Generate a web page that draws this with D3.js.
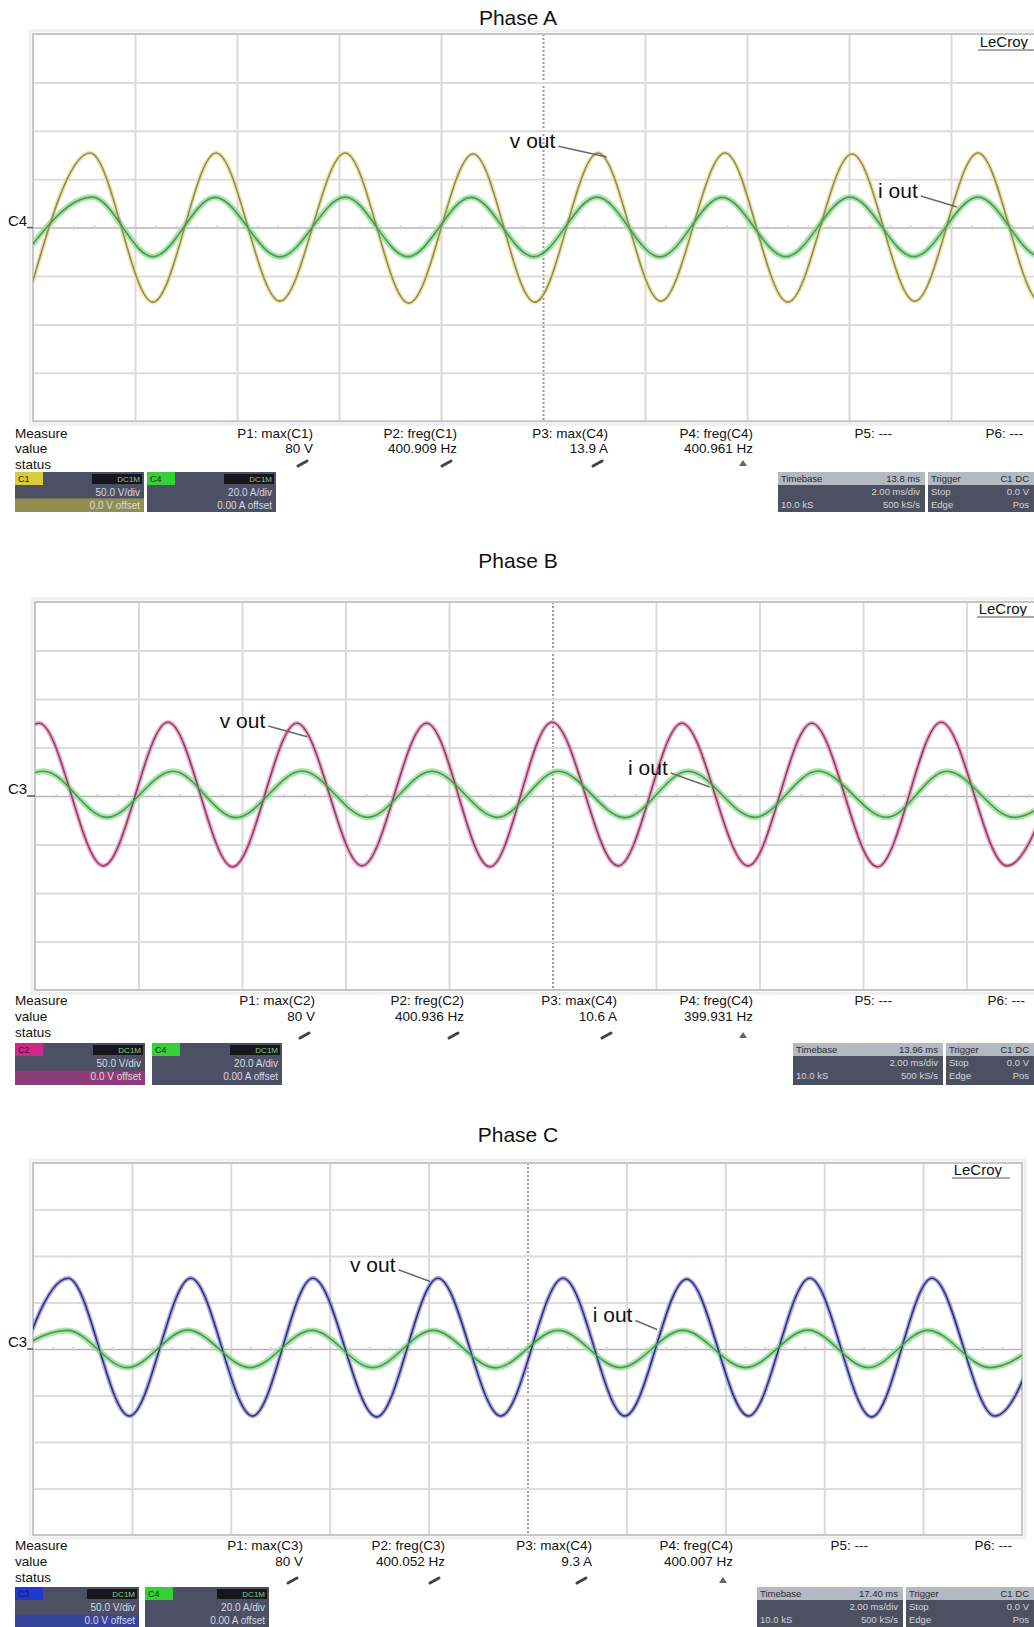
<!DOCTYPE html>
<html>
<head>
<meta charset="utf-8">
<script src="https://cdn.jsdelivr.net/npm/d3@7/dist/d3.min.js"></script>
<style>
  body { margin: 0; background: #fff; }
  svg { display: block; font-family: "Liberation Sans", Arial, Helvetica, sans-serif; }
</style>
</head>
<body>
<div id="chart"></div>
<script>
// scope settings
const voltsPerDiv = 50;
const ampsPerDiv = 20;
const msPerDiv = 2;

// extrema of each trace: time (ms from left of screen) and value
const phaseAVoltT = [-0.12, 1.12, 2.35, 3.59, 4.84, 6.12, 7.37, 8.63, 9.84, 11.08, 12.31, 13.57, 14.80, 16.06, 17.29, 18.53, 19.76, 21.0];
const phaseAVolt  = [-77, 77, -77, 77, -76, 77, -78, 76, -77, 77, -76, 77, -77, 76, -76, 77, -77, 77];
const phaseACurT  = [-0.2, 1.16, 2.35, 3.57, 4.84, 6.12, 7.35, 8.59, 9.82, 11.06, 12.29, 13.51, 14.76, 16.02, 17.27, 18.53, 19.76, 21.0];
const phaseACur   = [-12.0, 12.6, -12.0, 12.5, -12.1, 12.6, -12.0, 12.5, -12.0, 12.6, -12.1, 12.5, -12.0, 12.6, -12.0, 12.6, -12.0, 12.5];

const phaseBVoltT = [-1.17, 0.08, 1.32, 2.57, 3.82, 5.06, 6.32, 7.57, 8.79, 9.99, 11.27, 12.50, 13.78, 15.01, 16.28, 17.51, 18.78, 20.02];
const phaseBVolt  = [-72, 75, -72, 76, -73, 75, -72, 75, -73, 76, -72, 75, -72, 75, -73, 76, -72, 75];
const phaseBCurT  = [-1.08, 0.17, 1.39, 2.67, 3.88, 5.16, 6.43, 7.67, 8.94, 10.11, 11.40, 12.62, 13.91, 15.13, 16.46, 17.62, 18.92, 20.12];
const phaseBCur   = [-8.8, 10.2, -8.8, 10.2, -8.9, 10.3, -8.8, 10.2, -8.8, 10.2, -8.9, 10.2, -8.8, 10.3, -8.8, 10.2, -8.8, 10.2];

const phaseCVoltT = [-0.6, 0.71, 1.95, 3.19, 4.44, 5.66, 6.95, 8.19, 9.46, 10.72, 11.97, 13.22, 14.47, 15.71, 16.96, 18.18, 19.45, 20.7];
const phaseCVolt  = [-72, 76, -72, 76, -72, 76, -73, 76, -72, 76, -72, 75, -72, 76, -73, 76, -72, 76];
const phaseCCurT  = [-0.8, 0.69, 1.91, 3.13, 4.39, 5.64, 6.87, 8.09, 9.35, 10.62, 11.88, 13.14, 14.41, 15.67, 16.89, 18.10, 19.35, 20.6];
const phaseCCur   = [-8.0, 8.0, -8.0, 8.1, -8.0, 8.0, -8.0, 8.0, -8.1, 8.0, -8.0, 8.0, -8.0, 8.1, -8.0, 8.0, -8.0, 8.0];

// measurement readouts
const measureRowLabels = ["Measure", "value", "status"];
const phaseAHeads  = ["P1: max(C1)", "P2: freg(C1)", "P3: max(C4)", "P4: freg(C4)", "P5: ---", "P6: ---"];
const phaseAValues = ["80 V", "400.909 Hz", "13.9 A", "400.961 Hz", "", ""];
const phaseBHeads  = ["P1: max(C2)", "P2: freg(C2)", "P3: max(C4)", "P4: freg(C4)", "P5: ---", "P6: ---"];
const phaseBValues = ["80 V", "400.936 Hz", "10.6 A", "399.931 Hz", "", ""];
const phaseCHeads  = ["P1: max(C3)", "P2: freg(C3)", "P3: max(C4)", "P4: freg(C4)", "P5: ---", "P6: ---"];
const phaseCValues = ["80 V", "400.052 Hz", "9.3 A", "400.007 Hz", "", ""];
const statusKinds  = ["ok", "ok", "ok", "warn", "", ""];

const width = 1034;
const height = 1627;

const svg = d3.select("#chart").append("svg")
  .attr("width", width)
  .attr("height", height);

const panels = [
  {
    id: "A", title: "Phase A", titleY: 25, left: 33, top: 34, divX: 102, divY: 48.4,
    chanLabel: "C4", volt: [phaseAVoltT, phaseAVolt], cur: [phaseACurT, phaseACur],
    vGlow: "#e8e08e", vCore: "#918c5e", chanColor: "#d8cc3a", chanText: "C1",
    heads: phaseAHeads, values: phaseAValues,
    rows: [438, 453, 469], cols: [313, 457, 608, 753, 892, 1023], statusY: 463,
    badges: [15, 147], badgeW: 129, badgeY: 472, badgeH: 40,
    tb: [778, 928], tbW: 147, tbTime: "13.8 ms",
    lecroy: [1028, 47],
    vLabel: { t: 9.35, val: 82, endT: 11.25, endVal: 73 },
    iLabel: { t: 16.57, val: 12.2, endT: 18.12, endVal: 8.5 }
  },
  {
    id: "B", title: "Phase B", titleY: 568, left: 35, top: 602, divX: 103.5, divY: 48.5,
    chanLabel: "C3", volt: [phaseBVoltT, phaseBVolt], cur: [phaseBCurT, phaseBCur],
    vGlow: "#ec94bc", vCore: "#8e4268", chanColor: "#d0288a", chanText: "C2",
    heads: phaseBHeads, values: phaseBValues,
    rows: [1005, 1021, 1037], cols: [315, 464, 617, 753, 892, 1025], statusY: 1035,
    badges: [15, 152], badgeW: 130, badgeY: 1043, badgeH: 42,
    tb: [793, 946], tbW: 150, tbTime: "13.96 ms",
    lecroy: [1027, 614],
    vLabel: { t: 3.57, val: 70, endT: 5.26, endVal: 61 },
    iLabel: { t: 11.46, val: 8.7, endT: 13.04, endVal: 3.7 }
  },
  {
    id: "C", title: "Phase C", titleY: 1142, left: 33, top: 1163, divX: 98.9, divY: 46.5,
    chanLabel: "C3", volt: [phaseCVoltT, phaseCVolt], cur: [phaseCCurT, phaseCCur],
    vGlow: "#9494e2", vCore: "#33337a", chanColor: "#2038d0", chanText: "C3",
    heads: phaseCHeads, values: phaseCValues,
    rows: [1550, 1566, 1582], cols: [303, 445, 592, 733, 868, 1012], statusY: 1580,
    badges: [15, 145], badgeW: 124, badgeY: 1587, badgeH: 42,
    tb: [757, 906], tbW: 146, tbTime: "17.40 ms",
    lecroy: [1002, 1175],
    vLabel: { t: 6.41, val: 83, endT: 8.03, endVal: 72.6 },
    iLabel: { t: 11.32, val: 11.4, endT: 12.62, endVal: 8.4 }
  }
];

panels.forEach(drawPanel);

function drawPanel(p) {
  const plotW = 10 * p.divX;
  const plotH = 8 * p.divY;
  const bottom = p.top + plotH;

  const x = d3.scaleLinear()
    .domain([0, 10 * msPerDiv])
    .range([p.left, p.left + plotW]);
  const yV = d3.scaleLinear()
    .domain([-4 * voltsPerDiv, 4 * voltsPerDiv])
    .range([bottom, p.top]);
  const yI = d3.scaleLinear()
    .domain([-4 * ampsPerDiv, 4 * ampsPerDiv])
    .range([bottom, p.top]);

  const g = svg.append("g");

  g.append("text")
    .attr("x", 518)
    .attr("y", p.titleY)
    .attr("text-anchor", "middle")
    .style("font-size", "21px")
    .attr("fill", "#111")
    .text(p.title);

  // outer frame shadow
  g.append("rect")
    .attr("x", p.left - 3).attr("y", p.top - 3)
    .attr("width", plotW + 6).attr("height", plotH + 6)
    .attr("fill", "none").attr("stroke", "#f0f0f0").attr("stroke-width", 3);

  // grid from axes
  const gx = g.append("g")
    .attr("transform", `translate(0,${p.top})`)
    .call(d3.axisBottom(x).tickValues(d3.range(msPerDiv, 10 * msPerDiv, msPerDiv)).tickSize(plotH).tickFormat(""));
  gx.select(".domain").remove();
  gx.selectAll("line").attr("stroke", "#dadada").attr("stroke-width", 2);
  gx.selectAll(".tick").filter(d => d === 5 * msPerDiv).select("line")
    .attr("stroke", "#9a9a9a").attr("stroke-width", 2).attr("stroke-dasharray", "2,2");

  const gy = g.append("g")
    .attr("transform", `translate(${p.left},0)`)
    .call(d3.axisRight(yV).tickValues(d3.range(-3 * voltsPerDiv, 4 * voltsPerDiv, voltsPerDiv)).tickSize(plotW).tickFormat(""));
  gy.select(".domain").remove();
  gy.selectAll("line").attr("stroke", "#dcdcdc").attr("stroke-width", 2);
  gy.selectAll(".tick").filter(d => d === 0).select("line")
    .attr("stroke", "#b6b6b6").attr("stroke-width", 1.5);

  // minor ticks along the center cross
  const mx = g.append("g")
    .attr("transform", `translate(0,${yV(0) - 2})`)
    .call(d3.axisBottom(x).tickValues(d3.range(0.4, 20, 0.4)).tickSize(4).tickFormat(""));
  mx.select(".domain").remove();
  mx.selectAll("line").attr("stroke", "#e6c8d4").attr("stroke-width", 1.5);

  g.append("rect")
    .attr("x", p.left).attr("y", p.top)
    .attr("width", plotW).attr("height", plotH)
    .attr("fill", "none").attr("stroke", "#c6c6c6").attr("stroke-width", 2);

  // traces
  svg.append("clipPath").attr("id", "clip" + p.id)
    .append("rect")
    .attr("x", p.left).attr("y", p.top)
    .attr("width", plotW).attr("height", plotH);

  const traces = g.append("g").attr("clip-path", `url(#clip${p.id})`);

  const vData = p.volt[0].map((t, i) => ({ t, v: p.volt[1][i] }));
  const iData = p.cur[0].map((t, i) => ({ t, v: p.cur[1][i] }));

  const vLine = d3.line().x(d => x(d.t)).y(d => yV(d.v)).curve(d3.curveMonotoneX);
  const iLine = d3.line().x(d => x(d.t)).y(d => yI(d.v)).curve(d3.curveMonotoneX);

  traces.append("path").datum(vData)
    .attr("fill", "none").attr("stroke", p.vGlow).attr("stroke-width", 4.5).attr("opacity", 0.8)
    .attr("d", vLine);
  traces.append("path").datum(iData)
    .attr("fill", "none").attr("stroke", "#8ee28e").attr("stroke-width", 6).attr("opacity", 0.8)
    .attr("d", iLine);
  traces.append("path").datum(vData)
    .attr("fill", "none").attr("stroke", p.vCore).attr("stroke-width", 1.6)
    .attr("d", vLine);
  traces.append("path").datum(iData)
    .attr("fill", "none").attr("stroke", "#55905f").attr("stroke-width", 1.6)
    .attr("d", iLine);

  // channel label at the zero level
  g.append("text")
    .attr("x", 8).attr("y", yV(0) - 2)
    .style("font-size", "15px").attr("fill", "#111")
    .text(p.chanLabel);
  g.append("line")
    .attr("x1", 27).attr("x2", p.left)
    .attr("y1", yV(0)).attr("y2", yV(0))
    .attr("stroke", "#555").attr("stroke-width", 1.5);

  // LeCroy tag
  g.append("text")
    .attr("x", p.lecroy[0]).attr("y", p.lecroy[1])
    .attr("text-anchor", "end")
    .style("font-size", "15px").attr("fill", "#111")
    .text("LeCroy");
  g.append("line")
    .attr("x1", p.lecroy[0] - 50).attr("x2", p.lecroy[0] + 8)
    .attr("y1", p.lecroy[1] + 3).attr("y2", p.lecroy[1] + 3)
    .attr("stroke", "#a8a8a8").attr("stroke-width", 2);

  // trace annotations
  [[p.vLabel, yV, "v out"], [p.iLabel, yI, "i out"]].forEach(([a, ys, label]) => {
    const txt = g.append("text")
      .attr("x", x(a.t)).attr("y", ys(a.val))
      .style("font-size", "21px").attr("fill", "#111")
      .text(label);
    const len = txt.node().getComputedTextLength();
    g.append("line")
      .attr("x1", x(a.t) + len + 3).attr("y1", ys(a.val) - 2)
      .attr("x2", x(a.endT)).attr("y2", ys(a.endVal))
      .attr("stroke", "#6a6a6a").attr("stroke-width", 1.6);
  });

  // measurement table
  measureRowLabels.forEach((lab, i) => {
    g.append("text")
      .attr("x", 15).attr("y", p.rows[i])
      .style("font-size", "13.5px").attr("fill", "#111")
      .text(lab);
  });
  p.heads.forEach((h, i) => {
    g.append("text")
      .attr("x", p.cols[i]).attr("y", p.rows[0])
      .attr("text-anchor", "end")
      .style("font-size", "13.5px").attr("fill", "#111")
      .text(h);
    if (p.values[i]) {
      g.append("text")
        .attr("x", p.cols[i]).attr("y", p.rows[1])
        .attr("text-anchor", "end")
        .style("font-size", "13.5px").attr("fill", "#111")
        .text(p.values[i]);
    }
    const sx = p.cols[i] - 10;
    if (statusKinds[i] === "ok") {
      g.append("path")
        .attr("d", `M${sx - 5},${p.statusY + 3} L${sx + 4},${p.statusY - 2}`)
        .attr("stroke", "#444").attr("stroke-width", 3).attr("stroke-linecap", "round");
    } else if (statusKinds[i] === "warn") {
      g.append("path")
        .attr("d", `M${sx - 4},${p.statusY + 3} L${sx},${p.statusY - 3} L${sx + 4},${p.statusY + 3} Z`)
        .attr("fill", "#666");
    }
  });

  // channel badges
  const badgeInfo = [
    { color: p.chanColor, name: p.chanText, l1: "50.0 V/div", l2: "0.0 V offset", tint: true },
    { color: "#34d034", name: "C4", l1: "20.0 A/div", l2: "0.00 A offset", tint: false }
  ];
  badgeInfo.forEach((b, i) => {
    const bx = p.badges[i];
    const bg = g.append("g").attr("transform", `translate(${bx},${p.badgeY})`);
    bg.append("rect").attr("width", p.badgeW).attr("height", p.badgeH).attr("fill", "#4d5064");
    if (b.tint) {
      bg.append("rect").attr("y", p.badgeH * 0.66).attr("width", p.badgeW).attr("height", p.badgeH * 0.34)
        .attr("fill", b.color).attr("opacity", 0.5);
    }
    bg.append("rect").attr("width", 28).attr("height", 13).attr("fill", b.color);
    bg.append("rect").attr("x", p.badgeW - 52).attr("y", 2).attr("width", 50).attr("height", 10).attr("fill", "#16161c");
    bg.append("text").attr("x", 3).attr("y", 10).style("font-size", "9px").attr("fill", "#222").text(b.name);
    bg.append("text").attr("x", p.badgeW - 4).attr("y", 10).attr("text-anchor", "end")
      .style("font-size", "8px").attr("fill", "#8c8").text("DC1M");
    bg.append("text").attr("x", p.badgeW - 4).attr("y", 24).attr("text-anchor", "end")
      .style("font-size", "10px").attr("fill", "#d8d8e0").text(b.l1);
    bg.append("text").attr("x", p.badgeW - 4).attr("y", 37).attr("text-anchor", "end")
      .style("font-size", "10px").attr("fill", "#d8d8e0").text(b.l2);
  });

  // timebase / trigger boxes
  const tbInfo = [
    ["Timebase", p.tbTime, "", "2.00 ms/div", "10.0 kS", "500 kS/s"],
    ["Trigger", "C1 DC", "Stop", "0.0 V", "Edge", "Pos"]
  ];
  tbInfo.forEach((rows, i) => {
    const bx = p.tb[i];
    const w = i === 0 ? p.tbW : width - bx;
    const bg = g.append("g").attr("transform", `translate(${bx},${p.badgeY})`);
    bg.append("rect").attr("width", w).attr("height", p.badgeH).attr("fill", "#4d5060");
    bg.append("rect").attr("width", w).attr("height", 13).attr("fill", "#b4b8c0");
    [0, 1, 2].forEach(r => {
      bg.append("text").attr("x", 3).attr("y", 10 + r * 13)
        .style("font-size", "9.5px").attr("fill", r === 0 ? "#2a2a30" : "#d4d4dc").text(rows[r * 2]);
      bg.append("text").attr("x", w - 5).attr("y", 10 + r * 13).attr("text-anchor", "end")
        .style("font-size", "9.5px").attr("fill", r === 0 ? "#2a2a30" : "#d4d4dc").text(rows[r * 2 + 1]);
    });
  });
}
</script>
</body>
</html>
